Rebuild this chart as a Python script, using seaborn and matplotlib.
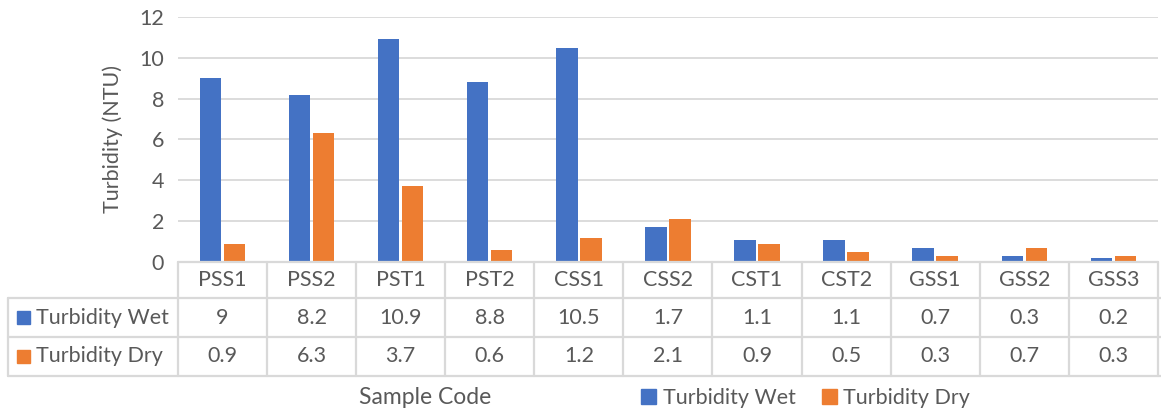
import pandas as pd
import matplotlib.pyplot as plt
import seaborn as sns
from matplotlib.lines import Line2D
from matplotlib.patches import Patch
from matplotlib.transforms import blended_transform_factory

samples = ["PSS1", "PSS2", "PST1", "PST2", "CSS1", "CSS2", "CST1", "CST2", "GSS1", "GSS2", "GSS3"]
wet = [9, 8.2, 10.9, 8.8, 10.5, 1.7, 1.1, 1.1, 0.7, 0.3, 0.2]
dry = [0.9, 6.3, 3.7, 0.6, 1.2, 2.1, 0.9, 0.5, 0.3, 0.7, 0.3]
wet_labels = ["9", "8.2", "10.9", "8.8", "10.5", "1.7", "1.1", "1.1", "0.7", "0.3", "0.2"]
dry_labels = ["0.9", "6.3", "3.7", "0.6", "1.2", "2.1", "0.9", "0.5", "0.3", "0.7", "0.3"]
series = ["Turbidity Wet", "Turbidity Dry"]
colors = ["#4472C4", "#ED7D31"]

df = pd.DataFrame({
    "Sample": samples * 2,
    "Series": [series[0]] * len(samples) + [series[1]] * len(samples),
    "Turbidity": wet + dry,
})

sns.set_style("white")
plt.rcParams["font.family"] = ["Lato", "DejaVu Sans"]
txt = "#595959"
grid = "#D9D9D9"
fs = 15.5

fig = plt.figure(figsize=(11.61, 4.12), dpi=100)
ax = fig.add_axes([0.1533, 0.364, 0.844, 0.595])

sns.barplot(data=df, x="Sample", y="Turbidity", hue="Series", palette=colors,
            width=0.54, gap=0.11, ax=ax, legend=False, saturation=1, linewidth=0)

ax.set_ylim(0, 12)
ax.set_xlim(-0.5, len(samples) - 0.5)
ax.set_yticks(range(0, 13, 2))
ax.tick_params(axis="y", labelsize=fs, labelcolor=txt, length=0, pad=10)
ax.set_xticks([])
ax.set_xlabel("")
ax.set_ylabel("Turbidity (NTU)", fontsize=fs, color=txt, labelpad=12)
ax.grid(axis="y", color=grid, linewidth=1.3)
ax.set_axisbelow(True)
for s in ax.spines.values():
    s.set_visible(False)

# data table below the plot
def fy(py):
    return 1 - py / 412

tr = blended_transform_factory(ax.transData, fig.transFigure)
y_top, y_r1, y_r2, y_bot = fy(262), fy(298), fy(337), fy(376)
lw = 1.6
n = len(samples)

ax.plot([-0.5, n - 0.5], [y_top, y_top], transform=tr, color=grid, lw=lw, clip_on=False)
for y in [y_r1, y_r2, y_bot]:
    fig.add_artist(Line2D([8 / 1161, 1], [y, y], color=grid, lw=lw))
for i in range(n + 1):
    ax.plot([i - 0.5, i - 0.5], [y_top, y_bot], transform=tr, color=grid, lw=lw, clip_on=False)
fig.add_artist(Line2D([8 / 1161, 8 / 1161], [y_r1, y_bot], color=grid, lw=lw))

mid0 = (y_top + y_r1) / 2
mid1 = (y_r1 + y_r2) / 2
mid2 = (y_r2 + y_bot) / 2
for i in range(n):
    ax.text(i, mid0, samples[i], transform=tr, ha="center", va="center", fontsize=fs, color=txt)
    ax.text(i, mid1, wet_labels[i], transform=tr, ha="center", va="center", fontsize=fs, color=txt)
    ax.text(i, mid2, dry_labels[i], transform=tr, ha="center", va="center", fontsize=fs, color=txt)

for mid, name, c in [(mid1, series[0], colors[0]), (mid2, series[1], colors[1])]:
    fig.patches.append(plt.Rectangle((17 / 1161, mid - 6 / 412), 13 / 1161, 13 / 412,
                                     transform=fig.transFigure, color=c))
    fig.text(36 / 1161, mid, name, ha="left", va="center", fontsize=fs, color=txt)

fig.text(0.366, fy(398), "Sample Code", ha="center", va="center", fontsize=16.5, color=txt)

handles = [Patch(color=c, label=s) for c, s in zip(colors, series)]
fig.legend(handles=handles, loc="center", bbox_to_anchor=(0.694, fy(398)), ncol=2, frameon=False,
           fontsize=fs, labelcolor=txt, handlelength=0.7, handleheight=0.7,
           handletextpad=0.3, columnspacing=1.2)

plt.savefig("out.png", dpi=100)
